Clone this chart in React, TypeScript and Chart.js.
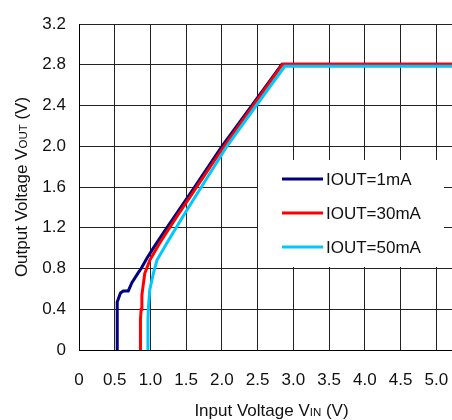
import React, { useEffect, useRef } from 'react';
import { Chart, registerables } from 'chart.js';

Chart.register(...registerables);

const FONT = '"Liberation Sans", Arial, sans-serif';

const SERIES_LABELS = ['IOUT=1mA', 'IOUT=30mA', 'IOUT=50mA'];
const SERIES_COLORS = ['#000080', '#ff0000', '#00c8ff'];

const VIN_1MA = [0.535, 0.535, 0.58, 0.62, 0.69, 0.74, 0.83, 0.87, 0.95, 1.04, 1.2, 1.58, 2.0, 2.42, 2.84, 5.4];
const VOUT_1MA = [0, 0.47, 0.56, 0.58, 0.58, 0.66, 0.76, 0.8, 0.9, 1.0, 1.17, 1.56, 2.0, 2.4, 2.805, 2.805];

const VIN_30MA = [0.855, 0.86, 0.87, 0.88, 0.92, 0.99, 1.13, 1.37, 2.03, 2.44, 2.85, 5.4];
const VOUT_30MA = [0, 0.3, 0.4, 0.54, 0.75, 0.88, 1.05, 1.31, 2.0, 2.4, 2.805, 2.805];

const VIN_50MA = [0.96, 0.965, 0.97, 0.99, 1.04, 1.09, 1.23, 1.48, 2.07, 2.48, 2.88, 5.4];
const VOUT_50MA = [0, 0.3, 0.4, 0.59, 0.75, 0.88, 1.05, 1.34, 2.0, 2.4, 2.785, 2.785];

const X_TICKS = [0, 0.5, 1.0, 1.5, 2.0, 2.5, 3.0, 3.5, 4.0, 4.5, 5.0];
const Y_TICKS = [0, 0.4, 0.8, 1.2, 1.6, 2.0, 2.4, 2.8, 3.2];

const X_TITLE: [string, boolean][] = [['Input Voltage V', false], ['IN', true], [' (V)', false]];
const Y_TITLE: [string, boolean][] = [['Output Voltage V', false], ['OUT', true], [' (V)', false]];

const fmt = (v: number) => (v === 0 ? '0' : v.toFixed(1));

function drawRich(ctx: CanvasRenderingContext2D, parts: [string, boolean][], x: number, y: number, rotate: boolean) {
  ctx.save();
  ctx.translate(x, y);
  if (rotate) ctx.rotate(-Math.PI / 2);
  ctx.fillStyle = '#111';
  ctx.textAlign = 'left';
  ctx.textBaseline = 'alphabetic';
  const fonts = parts.map(([, sub]) => (sub ? `11.5px ${FONT}` : `17px ${FONT}`));
  let total = 0;
  const widths = parts.map(([t], i) => {
    ctx.font = fonts[i];
    const w = ctx.measureText(t).width;
    total += w;
    return w;
  });
  let cx = -total / 2;
  parts.forEach(([t], i) => {
    ctx.font = fonts[i];
    ctx.fillText(t, cx, 0);
    cx += widths[i];
  });
  ctx.restore();
}

const titlesPlugin = {
  id: 'axisTitles',
  afterDraw(chart: any) {
    const ctx = chart.ctx as CanvasRenderingContext2D;
    const area = chart.chartArea;
    drawRich(ctx, X_TITLE, (area.left + area.right) / 2 + 6, 416, false);
    drawRich(ctx, Y_TITLE, 27, (area.top + area.bottom) / 2, true);
  },
};

const legendPlugin = {
  id: 'boxLegend',
  afterDatasetsDraw(chart: any) {
    const ctx = chart.ctx as CanvasRenderingContext2D;
    ctx.save();
    ctx.fillStyle = '#ffffff';
    ctx.fillRect(258, 160, 186, 107);
    chart.data.datasets.forEach((ds: any, i: number) => {
      const y = 179 + i * 34;
      ctx.strokeStyle = ds.borderColor;
      ctx.lineWidth = 3;
      ctx.beginPath();
      ctx.moveTo(282, y);
      ctx.lineTo(323, y);
      ctx.stroke();
      ctx.fillStyle = '#111';
      ctx.font = `17px ${FONT}`;
      ctx.textAlign = 'left';
      ctx.textBaseline = 'alphabetic';
      ctx.fillText(ds.label, 326, y + 6);
    });
    ctx.restore();
  },
};

const zip = (xs: number[], ys: number[]) => xs.map((x, i) => ({ x, y: ys[i] }));

export default function App() {
  const ref = useRef<HTMLCanvasElement>(null);

  useEffect(() => {
    if (!ref.current) return;
    const series = [
      zip(VIN_1MA, VOUT_1MA),
      zip(VIN_30MA, VOUT_30MA),
      zip(VIN_50MA, VOUT_50MA),
    ];
    const chart = new Chart(ref.current, {
      type: 'line',
      data: {
        datasets: series.map((d, i) => ({
          label: SERIES_LABELS[i],
          data: d,
          borderColor: SERIES_COLORS[i],
          backgroundColor: SERIES_COLORS[i],
          borderWidth: 3,
          pointRadius: 0,
          tension: 0,
          fill: false,
          order: 2 - i,
        })),
      },
      options: {
        responsive: false,
        animation: false,
        layout: { padding: { top: 24, left: 0, right: 0, bottom: 0 } },
        plugins: { legend: { display: false }, tooltip: { enabled: false } },
        scales: {
          x: {
            type: 'linear',
            min: 0,
            max: 5.22,
            afterBuildTicks: (s: any) => {
              s.ticks = X_TICKS.map((v) => ({ value: v }));
            },
            afterFit: (s: any) => {
              s.height = 70;
              s.paddingLeft = 0;
              s.paddingRight = 0;
            },
            grid: { color: '#222', lineWidth: 1, drawTicks: false },
            border: { display: true, color: '#000', width: 1 },
            ticks: {
              padding: 20,
              autoSkip: false,
              maxRotation: 0,
              color: '#111',
              font: { size: 17, family: FONT },
              callback: (v: any) => fmt(Number(v)),
            },
          },
          y: {
            type: 'linear',
            min: 0,
            max: 3.2,
            afterBuildTicks: (s: any) => {
              s.ticks = Y_TICKS.map((v) => ({ value: v }));
            },
            afterFit: (s: any) => {
              s.width = 79;
              s.paddingTop = 0;
              s.paddingBottom = 0;
            },
            grid: { color: '#222', lineWidth: 1, drawTicks: false },
            border: { display: true, color: '#000', width: 1 },
            ticks: {
              padding: 13,
              autoSkip: false,
              color: '#111',
              font: { size: 17, family: FONT },
              callback: (v: any) => fmt(Number(v)),
            },
          },
        },
      },
      plugins: [legendPlugin, titlesPlugin],
    } as any);
    return () => chart.destroy();
  }, []);

  return (
    <div style={{ position: 'absolute', left: 0, top: 0, width: 452, height: 420, background: '#fff' }}>
      <canvas ref={ref} width={452} height={420} style={{ display: 'block', width: 452, height: 420 }} />
    </div>
  );
}
